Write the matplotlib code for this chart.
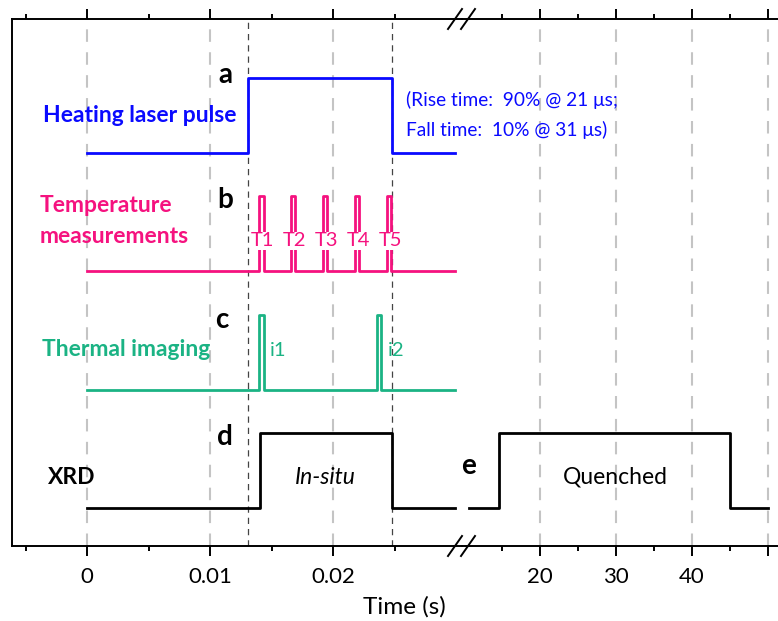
import matplotlib.pyplot as plt
import numpy as np

plt.rcParams['font.family'] = ['Lato', 'DejaVu Sans']

# ---- data (times in s on the left segment, in s on the right segment) ----
laser_edges = [0.0131, 0.0248]          # rise / fall of heating pulse
temp_pulses = [0.01415, 0.01675, 0.01935, 0.02195, 0.02455]
temp_labels = ['T1', 'T2', 'T3', 'T4', 'T5']
img_pulses = [0.01415, 0.02374]
img_labels = ['i1', 'i2']
pulse_w = 0.0004
xrd_insitu = [0.0141, 0.0248]
xrd_quench = [14.6, 45.0]
left_span = [0.0, 0.0299]
right_span = [10.7, 50.0]

left_major = [0, 0.01, 0.02]
left_minor = [-0.005, 0.005, 0.015, 0.025]
left_ticklabels = ['0', '0.01', '0.02']
right_major = [20, 30, 40, 50]
right_minor = [15, 25, 35, 45]
right_ticklabels = ['20', '30', '40', '']

# channel baselines / amplitude (layout)
base = {'laser': 7.48, 'temp': 5.23, 'img': 2.97, 'xrd': 0.72}
amp = 1.42

BLUE = '#0a0aff'
PINK = '#f5127f'
GREEN = '#1bb384'
GRID = '#c4c4c4'


def steps(t0, t1, edges):
    # square wave: low -> high at edges[0], high -> low at edges[1] ...
    xs = [t0]
    ys = [0]
    lvl = 0
    for e in edges:
        xs += [e, e]
        ys += [lvl, 1 - lvl]
        lvl = 1 - lvl
    xs.append(t1)
    ys.append(lvl)
    return np.array(xs), np.array(ys)


def pulses(t0, t1, centers, w):
    edges = []
    for c in centers:
        edges += [c - w / 2, c + w / 2]
    return steps(t0, t1, edges)


W, H = 778, 621
fig = plt.figure(figsize=(W / 100, H / 100), dpi=100)
bot = (H - 546) / H
hgt = (546 - 19) / H
brk = 462
axR = fig.add_axes([brk / W, bot, (790 - brk) / W, hgt])
axL = fig.add_axes([12 / W, bot, (brk - 12) / W, hgt])

axL.set_xlim((12 - 87) / 12300, (brk - 87) / 12300)
axR.set_xlim(20 + (brk - 540) / 7.6, 20 + (790 - 540) / 7.6)
for ax in (axL, axR):
    ax.patch.set_visible(False)
    ax.set_ylim(0, 527 / 52.6)
    ax.set_yticks([])
    for s in ax.spines.values():
        s.set_linewidth(1.4)
    ax.tick_params(axis='x', which='both', top=True, direction='out',
                   width=1.4, labelsize=16, pad=8)
    ax.tick_params(axis='x', which='major', length=7)
    ax.tick_params(axis='x', which='minor', length=3.5)
axL.spines['right'].set_visible(False)
axR.spines['left'].set_visible(False)

axL.set_xticks(left_major)
axL.set_xticklabels(left_ticklabels)
axL.set_xticks(left_minor, minor=True)
axR.set_xticks(right_major)
axR.set_xticklabels(right_ticklabels)
axR.set_xticks(right_minor, minor=True)

# grid
for x in left_major:
    axL.axvline(x, color=GRID, lw=1.5, dashes=(6, 5), zorder=0)
for x in right_major:
    axR.axvline(x, color=GRID, lw=1.5, dashes=(6, 5), zorder=0)
for x in laser_edges:
    axL.axvline(x, color='#444444', lw=0.9, dashes=(5, 4), zorder=0)

lw = 2.0
# a: laser
x, y = steps(*left_span, laser_edges)
axL.plot(x, base['laser'] + amp * y, color=BLUE, lw=lw)
# b: temperature
x, y = pulses(*left_span, temp_pulses, pulse_w)
axL.plot(x, base['temp'] + amp * y, color=PINK, lw=lw)
# c: thermal imaging
x, y = pulses(*left_span, img_pulses, pulse_w)
axL.plot(x, base['img'] + amp * y, color=GREEN, lw=lw)
# d: xrd in-situ
x, y = steps(*left_span, xrd_insitu)
axL.plot(x, base['xrd'] + amp * y, color='black', lw=lw)
# e: xrd quenched
x, y = steps(*right_span, xrd_quench)
axR.plot(x, base['xrd'] + amp * y, color='black', lw=lw)


def tx(px):
    return (px - 87) / 12300


def ty(py):
    return (546 - py) / 52.6


fs = 16.5
fl = 20
kw = dict(va='center', fontweight='bold')
axL.text(tx(225), ty(75), 'a', ha='center', fontsize=fl, **kw)
axL.text(tx(225), ty(200), 'b', ha='center', fontsize=fl, **kw)
axL.text(tx(222), ty(320), 'c', ha='center', fontsize=fl, **kw)
axL.text(tx(225), ty(437), 'd', ha='center', fontsize=fl, **kw)
axR.text(20 + (468 - 540) / 7.6, ty(466), 'e', ha='center', fontsize=fl, **kw)

axL.text(tx(236), ty(116), 'Heating laser pulse', ha='right', color=BLUE,
         fontsize=fs, **kw)
axL.text(tx(40), ty(221), 'Temperature\nmeasurements', ha='left', color=PINK,
         fontsize=fs, linespacing=1.55, **kw)
axL.text(tx(42), ty(349), 'Thermal imaging', ha='left', color=GREEN,
         fontsize=fs, **kw)
axL.text(tx(48), ty(477), 'XRD', ha='left', color='black', fontsize=fs, **kw)

axL.text(tx(406), ty(100), '(Rise time:  90% @ 21 \u03bcs;', ha='left',
         va='center', color=BLUE, fontsize=13.8)
axL.text(tx(406), ty(130), 'Fall time:  10% @ 31 \u03bcs)', ha='left',
         va='center', color=BLUE, fontsize=13.8)

for c, lab in zip(temp_pulses, temp_labels):
    axL.text(c + 0.0001, ty(241), lab, ha='center', va='center', color=PINK,
             fontsize=14.5, bbox=dict(fc='white', ec='none', pad=0.5))
for c, lab in zip(img_pulses, img_labels):
    axL.text(c + 0.0007, ty(350), lab, ha='left', va='center', color=GREEN,
             fontsize=14.5)

axL.text(tx(325), ty(477), 'In-situ', ha='center', va='center',
         style='italic', fontsize=fs)
axR.text(20 + (615 - 540) / 7.6, ty(477), 'Quenched', ha='center',
         va='center', fontsize=fs)

fig.text(404 / W, 1 - 607 / H, 'Time (s)', ha='center', va='center',
         fontsize=17.5)

# break marks
for yb, yt in [(556, 536), (29, 9)]:
    for x0 in (448, 461):
        fig.add_artist(plt.Line2D([x0 / W, (x0 + 14) / W],
                                  [1 - yb / H, 1 - yt / H], color='black',
                                  lw=1.4))

fig.savefig('out.png', dpi=100)
